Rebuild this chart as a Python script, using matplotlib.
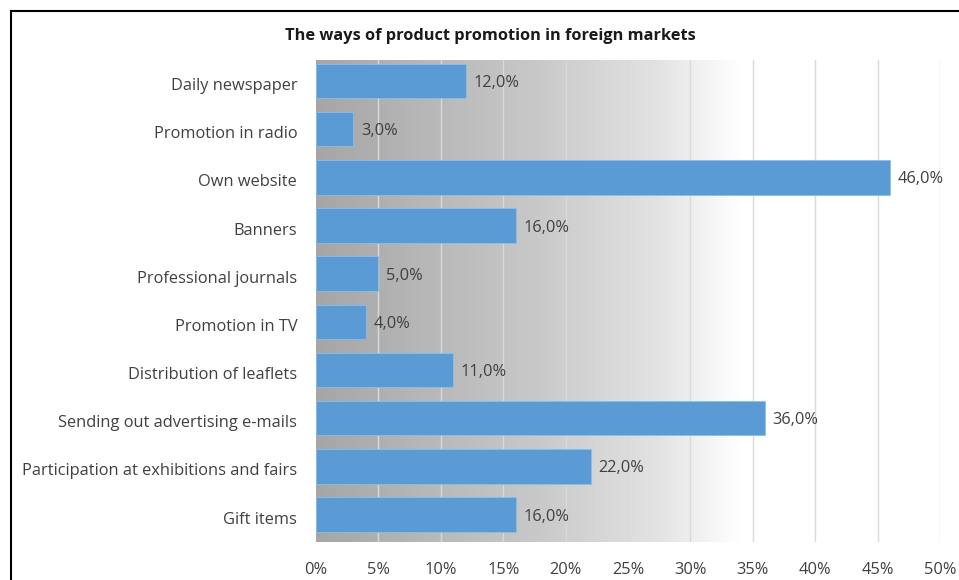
import numpy as np
import matplotlib.pyplot as plt
import matplotlib.transforms as mtransforms
from matplotlib.colors import LinearSegmentedColormap
from matplotlib.lines import Line2D

plt.rcParams['font.family'] = ['Open Sans', 'DejaVu Sans']

# 数据
categories = ["Daily newspaper", "Promotion in radio", "Own website", "Banners",
              "Professional journals", "Promotion in TV", "Distribution of leaflets",
              "Sending out advertising e-mails", "Participation at exhibitions and fairs",
              "Gift items"]
values = [12.0, 3.0, 46.0, 16.0, 5.0, 4.0, 11.0, 36.0, 22.0, 16.0]
ticks = [0, 5, 10, 15, 20, 25, 30, 35, 40, 45, 50]

fig = plt.figure(figsize=(9.59, 5.8), dpi=100)
ax = fig.add_axes([316 / 959, (580 - 542.3) / 580, 624 / 959, 482.3 / 580])

n = len(categories)
y_top, y_bot = -0.436, n - 1 + 0.577

# 背景渐变（灰到白）
cmap = LinearSegmentedColormap.from_list(
    "bg", [(0, "#a6a6a6"), (0.35, "#c8c8c8"), (0.55, "#e3e3e3"), (0.68, "#ffffff"), (1, "#ffffff")])
grad = np.linspace(0, 1, 512).reshape(1, -1)
ax.imshow(grad, cmap=cmap, aspect='auto', extent=[0, 50, y_bot, y_top], zorder=0)

y = np.arange(n)
for t in ticks[1:]:
    ax.axvline(t, color="#d9d9d9", lw=1, zorder=1)
bars = ax.barh(y, values, height=0.716, color="#5b9bd5", edgecolor="#8fbce6", lw=0.6, zorder=2)
for yi, v in zip(y, values):
    ax.text(v + 0.6, yi, f"{v:.1f}%".replace(".", ","), va='center_baseline', ha='left',
            fontsize=11.8, color="#404040", zorder=3)

ax.set_xlim(0, 50)
ax.set_ylim(y_bot, y_top)
ax.set_yticks(y)
ax.set_yticklabels(categories, fontsize=11.8, color="#404040")
ax.set_xticks(ticks)
ax.set_xticklabels([f"{t}%" for t in ticks], fontsize=11.8, color="#404040")
ax.tick_params(length=0, pad=13.5, axis='y')
ax.tick_params(length=0, pad=14, axis='x')
for s in ax.spines.values():
    s.set_visible(False)

# 分类标签稍微下移
offset = mtransforms.ScaledTranslation(0, -3 / 100, fig.dpi_scale_trans)
for lbl in ax.get_yticklabels():
    lbl.set_transform(lbl.get_transform() + offset)

fig.text(490 / 959, 1 - 34 / 580, "The ways of product promotion in foreign markets",
         ha='center', va='center_baseline', fontsize=11.8, fontweight='bold', color="#1a1a1a")

# 外框
fig.add_artist(Line2D([10.5 / 959, 10.5 / 959], [0, 1 - 10.5 / 580], color='black', lw=1.5,
                      transform=fig.transFigure))
fig.add_artist(Line2D([10.5 / 959, 1], [1 - 10.5 / 580, 1 - 10.5 / 580], color='black', lw=1.5,
                      transform=fig.transFigure))

fig.savefig("out.png", dpi=100)
